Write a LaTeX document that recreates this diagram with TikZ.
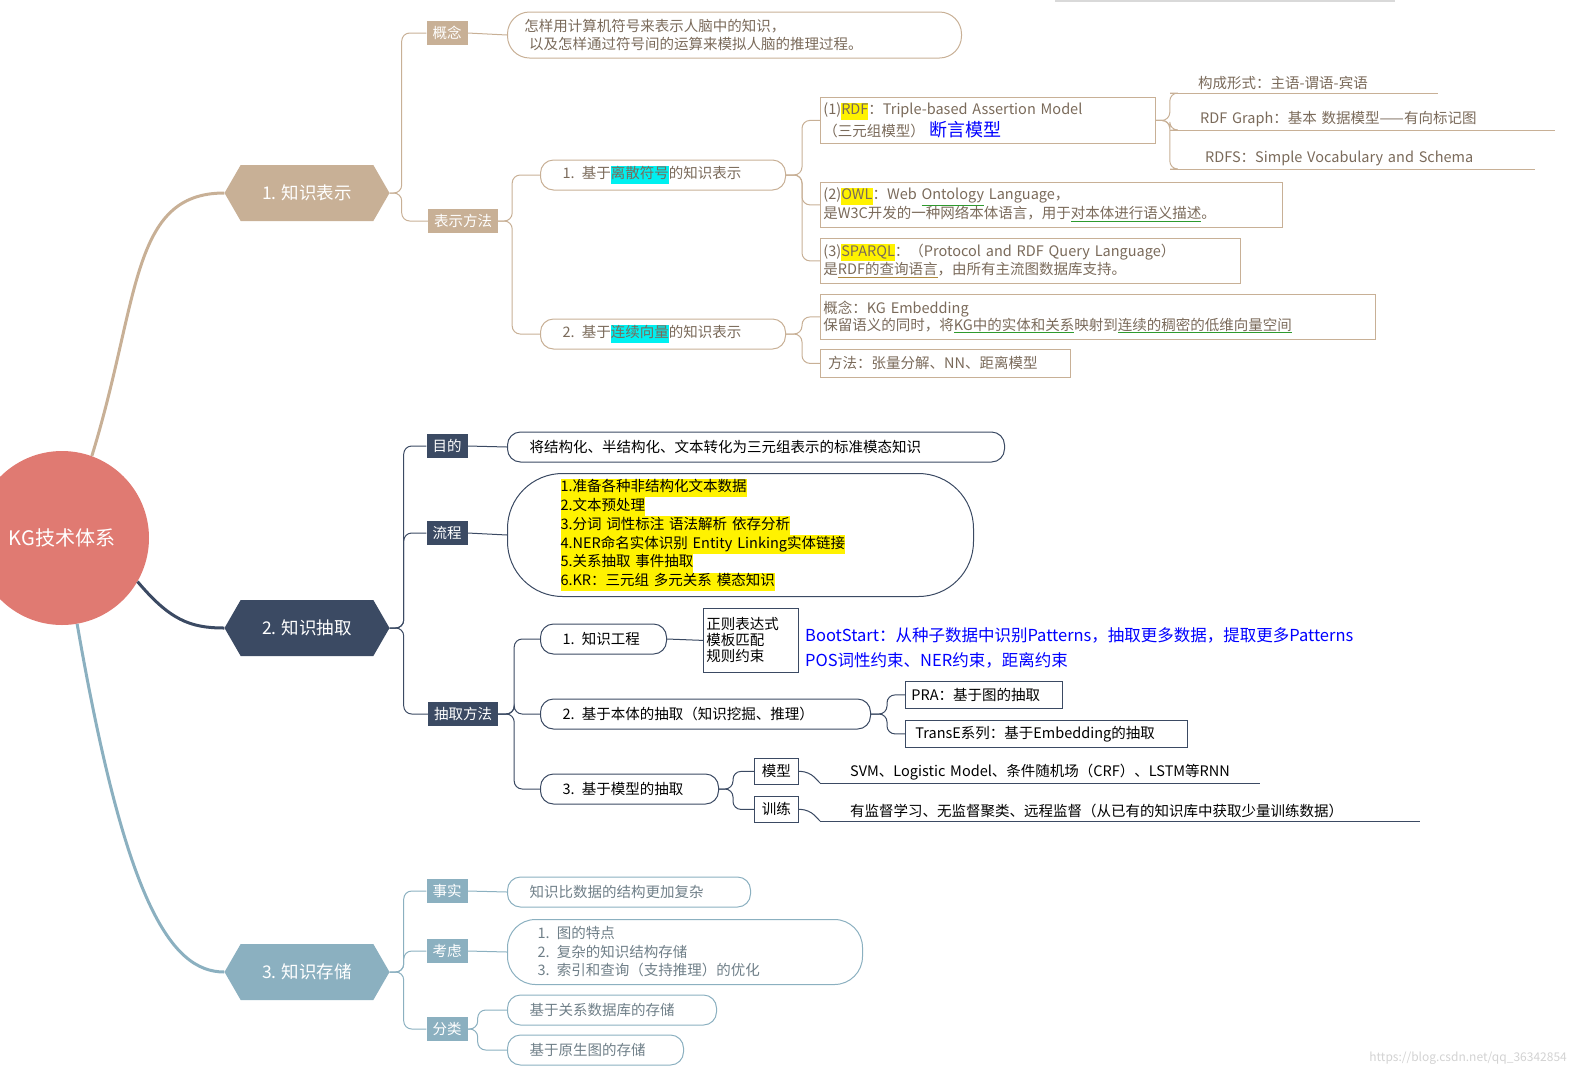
\documentclass[tikz,border=0pt]{standalone}
\usepackage{fontspec}
\setmainfont{Noto Sans CJK SC}
\usetikzlibrary{shapes.symbols,shapes.misc}
\definecolor{tanc}{HTML}{C8B096}
\definecolor{navy}{HTML}{3B4A63}
\definecolor{bluec}{HTML}{8BB0C0}
\definecolor{redc}{HTML}{E07A72}
\definecolor{tx1}{HTML}{7A6A5A}
\definecolor{tx3}{HTML}{6F7F88}
\definecolor{ulg}{HTML}{2E9A2E}
\definecolor{ulo}{HTML}{B08A40}
\definecolor{cyn}{HTML}{00F0F0}
\newcommand\gul[1]{{\color{ulg}\underline{\textcolor{tx1}{#1}}}}
\newcommand\oul[1]{{\color{ulo}\underline{\textcolor{tx1}{#1}}}}
\newcommand\hly[1]{{\setlength\fboxsep{0pt}\colorbox{yellow}{\strut #1}}}
\newcommand\hlc[1]{{\setlength\fboxsep{0pt}\colorbox{cyn}{\strut #1}}}
\tikzset{
  base/.style={font=\fontsize{14.5}{17}\selectfont, inner sep=3pt},
  hexa/.style={base, signal, signal to=east and west, signal pointer angle=120, minimum width=165, minimum height=56, text=white, font=\fontsize{17.5}{20}\selectfont},
  lab/.style={base, fill=#1, text=white, minimum height=24, inner xsep=6pt},
  bub/.style={base, draw=#1, rounded corners=13, line width=1pt, align=left, inner xsep=22pt, minimum height=30},
  rbox/.style={base, draw=#1, line width=0.8pt, align=left, inner xsep=3pt, inner ysep=2pt},
  ln/.style={draw=#1, line width=1pt, rounded corners=8},
}
\begin{document}
\begin{tikzpicture}[x=1pt,y=-1pt]
\useasboundingbox (0,0) rectangle (1575,1080);
\fill[gray!30] (1055,0) rectangle (1395,2);
% center
\node[circle, fill=redc, minimum size=174, text=white, font=\fontsize{20}{22}\selectfont, inner sep=0] (kg) at (62,538) {KG技术体系};
\node[hexa, fill=tanc] (h1) at (307,193) {1. 知识表示};
\node[hexa, fill=navy] (h2) at (307,628) {2. 知识抽取};
\node[hexa, fill=bluec] (h3) at (307,972) {3. 知识存储};
\draw[tanc, line width=3pt] (kg.70) .. controls (140,300) and (130,193) .. (h1.west);
\draw[navy, line width=3pt] (kg.-30) .. controls (170,620) and (190,628) .. (h2.west);
\draw[bluec, line width=3pt] (kg.-80) .. controls (125,900) and (170,972) .. (h3.west);

% ===== branch 1
\node[lab=tanc] (gn) at (447,33) {概念};
\node[lab=tanc] (bs) at (463,221) {表示方法};
\draw[ln=tanc] (h1.east) -- ++(12,0) |- (gn.west);
\draw[ln=tanc] (h1.east) -- ++(12,0) |- (bs.west);
\node[bub=tanc, text=tx1, anchor=west, minimum height=46, rounded corners=22, text width=430, inner xsep=12pt, font=\fontsize{14.5}{18}\selectfont] (gnt) at (507,35) {\ 怎样用计算机符号来表示人脑中的知识，\\ \ \ 以及怎样通过符号间的运算来模拟人脑的推理过程。};
\draw[ln=tanc] (gn.east) -- (gnt.west);
\node[bub=tanc, text=tx1, anchor=west, text width=201] (d1) at (540,175) {1. 基于\hlc{离散符号}的知识表示};
\node[bub=tanc, text=tx1, anchor=west, text width=201] (d2) at (540,334) {2. 基于\hlc{连续向量}的知识表示};
\draw[ln=tanc] (bs.east) -- ++(14,0) |- (d1.west);
\draw[ln=tanc] (bs.east) -- ++(14,0) |- (d2.west);
\node[rbox=tanc, text=tx1, anchor=north west, text width=329, minimum height=46] (r1) at (820,97) {(1)\hly{RDF}：Triple-based Assertion Model\\（三元组模型） {\color{blue}\fontsize{18}{19}\selectfont 断言模型}};
\node[rbox=tanc, text=tx1, anchor=north west, text width=456, minimum height=45] (r2) at (820,182) {(2)\hly{OWL}：Web \gul{Ontology} Language，\\是W3C开发的一种网络本体语言，用于\gul{对本体进行语义描述}。};
\node[rbox=tanc, text=tx1, anchor=north west, text width=414, minimum height=45] (r3) at (820,238) {(3)\hly{SPARQL}：（Protocol and RDF Query Language）\\是\oul{RDF的查询语言}，由所有主流图数据库支持。};
\draw[ln=tanc] (d1.east) -- ++(16,0) |- (r1.west);
\draw[ln=tanc] (d1.east) -- ++(16,0) |- (r2.west);
\draw[ln=tanc] (d1.east) -- ++(16,0) |- (r3.west);
\node[rbox=tanc, text=tx1, anchor=north west, text width=549, minimum height=45] (c1) at (820,294) {概念：KG Embedding\\保留语义的同时，将\gul{KG中的实体和关系}映射到\gul{连续的稠密的低维向量空间}};
\node[rbox=tanc, text=tx1, anchor=north west, text width=244, minimum height=28] (c2) at (820,349) {\ 方法：张量分解、NN、距离模型};
\draw[ln=tanc] (d2.east) -- ++(16,0) |- (c1.west);
\draw[ln=tanc] (d2.east) -- ++(16,0) |- (c2.west);
\node[base, text=tx1, anchor=south west, text width=212, inner xsep=28pt, align=left] (f1) at (1170,93) {构成形式：主语-谓语-宾语};
\node[base, text=tx1, anchor=south west, text width=325, inner xsep=30pt, align=left] (f2) at (1170,130) {RDF Graph：基本 数据模型——有向标记图};
\node[base, text=tx1, anchor=south west, text width=295, inner xsep=35pt, align=left] (f3) at (1170,169) {RDFS：Simple Vocabulary and Schema};
\foreach \n in {f1,f2,f3} \draw[tanc, line width=1pt] (\n.south west) -- (\n.south east);
\draw[ln=tanc] (r1.east) -- ++(14,0) |- (f1.south west);
\draw[ln=tanc] (r1.east) -- ++(14,0) |- (f2.south west);
\draw[ln=tanc] (r1.east) -- ++(14,0) |- (f3.south west);

% ===== branch 2
\node[lab=navy] (md) at (447,446) {目的};
\node[lab=navy] (lc) at (447,533) {流程};
\node[lab=navy] (cq) at (463,714) {抽取方法};
\draw[ln=navy] (h2.east) -- ++(14,0) |- (md.west);
\draw[ln=navy] (h2.east) -- ++(14,0) |- (lc.west);
\draw[ln=navy] (h2.east) -- ++(14,0) |- (cq.west);
\node[bub=navy, anchor=west, text width=453] (mdt) at (507,447) {将结构化、半结构化、文本转化为三元组表示的标准模态知识};
\draw[ln=navy] (md.east) -- (mdt.west);
\node[bub=navy, anchor=west, text width=360, minimum height=123, rounded corners=55, inner xsep=53pt, font=\fontsize{14.5}{18.8}\selectfont] (lct) at (507,535) {\hly{1.准备各种非结构化文本数据}\\\hly{2.文本预处理}\\\hly{3.分词 词性标注 语法解析 依存分析}\\\hly{4.NER命名实体识别 Entity Linking实体链接}\\\hly{5.关系抽取 事件抽取}\\\hly{6.KR：三元组 多元关系 模态知识}};
\draw[ln=navy] (lc.east) -- (lct.west);
\node[bub=navy, anchor=west, text width=82] (e1) at (540,639) {1. 知识工程};
\node[bub=navy, anchor=west, text width=286] (e2) at (540,714) {2. 基于本体的抽取（知识挖掘、推理）};
\node[bub=navy, anchor=west, text width=134] (e3) at (540,789) {3. 基于模型的抽取};
\foreach \n in {e1,e2,e3} \draw[ln=navy] (cq.east) -- ++(16,0) |- (\n.west);
\node[rbox=navy, anchor=north west, text width=89, minimum height=64, font=\fontsize{14.5}{16}\selectfont] (gz) at (703,608) {正则表达式\\模板匹配\\规则约束};
\draw[ln=navy] (e1.east) -- (gz.west);
\node[base, anchor=west, text=blue, align=left, font=\fontsize{16.5}{25}\selectfont] (bt) at (802,648) {BootStart：从种子数据中识别Patterns，抽取更多数据，提取更多Patterns\\POS词性约束、NER约束，距离约束};
\node[rbox=navy, anchor=north west, text width=145, minimum height=27, inner xsep=6pt] (pra) at (905,681) {PRA：基于图的抽取};
\node[rbox=navy, anchor=north west, text width=262, minimum height=27, inner xsep=10pt] (tre) at (905,720) {TransE系列：基于Embedding的抽取};
\draw[ln=navy] (e2.east) -- ++(16,0) |- (pra.west);
\draw[ln=navy] (e2.east) -- ++(16,0) |- (tre.west);
\node[rbox=navy, anchor=north west, minimum width=44, minimum height=26, inner xsep=4pt] (mx) at (754,758) {模型};
\node[rbox=navy, anchor=north west, minimum width=44, minimum height=26, inner xsep=4pt] (xl) at (754,796) {训练};
\draw[ln=navy] (e3.east) -- ++(14,0) |- (mx.west);
\draw[ln=navy] (e3.east) -- ++(14,0) |- (xl.west);
\node[base, anchor=south west, text width=380, inner xsep=30pt, align=left] (mxt) at (820,783) {SVM、Logistic Model、条件随机场（CRF）、LSTM等RNN};
\node[base, anchor=south west, text width=540, inner xsep=30pt, align=left] (xlt) at (820,821) {有监督学习、无监督聚类、远程监督（从已有的知识库中获取少量训练数据）};
\draw[navy, line width=1pt] (mxt.south west) -- (mxt.south east);
\draw[navy, line width=1pt] (xlt.south west) -- (xlt.south east);
\draw[ln=navy] (mx.east) -- ++(10,0) -- (mxt.south west);
\draw[ln=navy] (xl.east) -- ++(10,0) -- (xlt.south west);

% ===== branch 3
\node[lab=bluec] (ss) at (447,891) {事实};
\node[lab=bluec] (kl) at (447,951) {考虑};
\node[lab=bluec] (fl) at (447,1029) {分类};
\foreach \n in {ss,kl,fl} \draw[ln=bluec] (h3.east) -- ++(14,0) |- (\n.west);
\node[bub=bluec, text=tx3, anchor=west, text width=199] (sst) at (507,892) {知识比数据的结构更加复杂};
\draw[ln=bluec] (ss.east) -- (sst.west);
\node[bub=bluec, text=tx3, anchor=west, text width=295, minimum height=65, rounded corners=28, inner xsep=30pt, font=\fontsize{14.5}{18.5}\selectfont] (klt) at (507,952) {1. 图的特点\\2. 复杂的知识结构存储\\3. 索引和查询（支持推理）的优化};
\draw[ln=bluec] (kl.east) -- (klt.west);
\node[bub=bluec, text=tx3, anchor=west, text width=165] (g1) at (507,1010) {基于关系数据库的存储};
\node[bub=bluec, text=tx3, anchor=west, text width=132] (g2) at (507,1050) {基于原生图的存储};
\draw[ln=bluec] (fl.east) -- ++(10,0) |- (g1.west);
\draw[ln=bluec] (fl.east) -- ++(10,0) |- (g2.west);

\node[base, text=gray!35, anchor=south east, font=\fontsize{12}{14}\selectfont] (wm) at (1570,1068) {https://blog.csdn.net/qq\_36342854};
\end{tikzpicture}
\end{document}
